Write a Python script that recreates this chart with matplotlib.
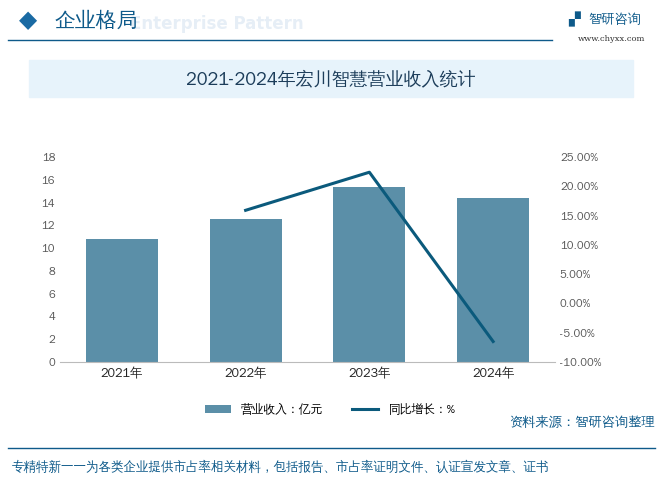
import matplotlib.pyplot as plt
from matplotlib.ticker import FuncFormatter
import numpy as np

CJK = ["WenQuanYi Zen Hei", "Noto Sans CJK SC", "DejaVu Sans"]
plt.rcParams["font.family"] = CJK

years = ["2021年", "2022年", "2023年", "2024年"]
revenue = [10.8, 12.6, 15.4, 14.4]
growth_years = [1, 2, 3]
growth = [15.9, 22.4, -6.5]

W, H = 663, 482
fig = plt.figure(figsize=(W / 100, H / 100), dpi=100)
BLUE = "#0e5a8a"

# header
fig.text(28 / W, 1 - 20 / H, "◆", color="#1a6aa3", fontsize=17, va="center", ha="center",
         family="DejaVu Sans")
fig.text(130 / W, 1 - 24 / H, "Enterprise Pattern", color="#e6eef6", fontsize=12,
         fontweight="bold", va="center", zorder=0, family="DejaVu Sans")
fig.text(55 / W, 1 - 20 / H, "企业格局", color=BLUE, fontsize=15, va="center")
fig.add_artist(plt.Line2D([8 / W, 552 / W], [1 - 40 / H, 1 - 40 / H], color=BLUE, lw=1))
fig.text(568 / W, 1 - 19 / H, "▞", color=BLUE, fontsize=11, va="center", family="DejaVu Sans")
fig.text(588 / W, 1 - 19 / H, "智研咨询", color=BLUE, fontsize=9.5, va="center")
fig.text(612 / W, 1 - 39 / H, "www.chyxx.com", color="#333333", fontsize=6,
         va="center", ha="center", family="DejaVu Serif")

# title box
fig.patches.append(plt.Rectangle((29 / W, 1 - 97 / H), 604 / W, 37 / H,
                                 transform=fig.transFigure, color="#e7f3fb", zorder=0))
fig.text(331 / W, 1 - 79 / H, "2021-2024年宏川智慧营业收入统计", color="#1c3d5a",
         fontsize=13, fontweight="bold", ha="center", va="center")

# chart
ax = fig.add_axes([60 / W, 1 - 362 / H, 495 / W, 205 / H])
x = np.arange(len(years))
ax.bar(x, revenue, width=0.58, color="#5b8fa8", label="营业收入：亿元")
ax.set_ylim(0, 18)
ax.set_yticks(range(0, 19, 2))
ax.set_xlim(-0.5, 3.5)
ax.set_xticks(x)
ax.set_xticklabels(years, fontsize=9)
ax.tick_params(axis="y", labelsize=8, colors="#555555", length=0)
ax.tick_params(axis="x", length=0, labelcolor="#222222")
for s in ["top", "right", "left"]:
    ax.spines[s].set_visible(False)
ax.spines["bottom"].set_color("#bbbbbb")

ax2 = ax.twinx()
ax2.plot(growth_years, growth, color="#0b5a7c", lw=2.2, label="同比增长：%")
ax2.set_ylim(-10, 25)
ax2.set_yticks(range(-10, 26, 5))
ax2.yaxis.set_major_formatter(FuncFormatter(lambda v, p: f"{v:.2f}%"))
ax2.tick_params(axis="y", labelsize=8, colors="#555555", length=0)
for s in ax2.spines.values():
    s.set_visible(False)

h1, l1 = ax.get_legend_handles_labels()
h2, l2 = ax2.get_legend_handles_labels()
fig.legend(h1 + h2, l1 + l2, loc="center", bbox_to_anchor=(330 / W, 1 - 409 / H),
           ncol=2, frameon=False, fontsize=8.5, handlelength=2.2, columnspacing=2.5)

# footer
fig.add_artist(plt.Line2D([8 / W, 655 / W], [1 - 448 / H, 1 - 448 / H], color=BLUE, lw=1))
fig.text(655 / W, 1 - 422 / H, "资料来源：智研咨询整理", color=BLUE, fontsize=9.5,
         ha="right", va="center")
fig.text(12 / W, 1 - 466 / H,
         "专精特新一一为各类企业提供市占率相关材料，包括报告、市占率证明文件、认证宣发文章、证书",
         color=BLUE, fontsize=9, va="center")

fig.savefig("out.png", dpi=100)
